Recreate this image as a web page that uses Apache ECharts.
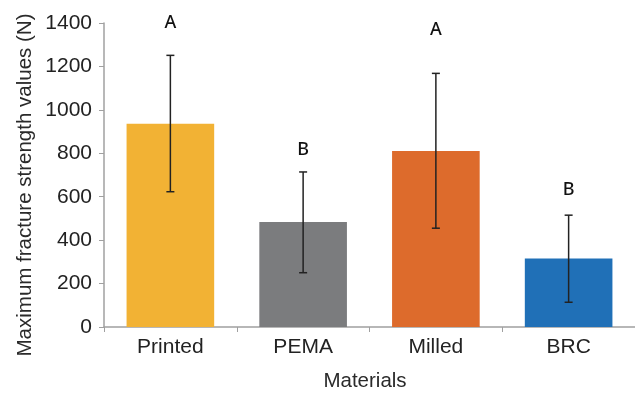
<!DOCTYPE html>
<html><head><meta charset="utf-8">
<script src="https://cdn.jsdelivr.net/npm/echarts@6/dist/echarts.min.js"></script>
<style>html,body{margin:0;padding:0;background:#fff}#c{width:635px;height:397px}</style>
</head><body><div id="c"></div>
<script>
var categories = ['Printed', 'PEMA', 'Milled', 'BRC'];
var means = [936, 483, 810, 315];
var errLow = [623, 250, 455, 114];
var errHigh = [1251, 714, 1168, 515];
var letters = ['A', 'B', 'A', 'B'];
var letterY = [1400, 814, 1368, 632];
var colors = ['#F2B234', '#7B7C7E', '#DD6B2C', '#2070B7'];
var yTicks = [0, 200, 400, 600, 800, 1000, 1200, 1400];

var chart = echarts.init(document.getElementById('c'));
var font = '"Liberation Sans", Arial, sans-serif';
chart.setOption({
  animation: false,
  grid: {left: 104, right: 0, top: 23, bottom: 66},
  graphic: [{
    type: 'text', x: 25, y: 185, rotation: Math.PI / 2,
    style: {text: 'Maximum fracture strength values (N)', font: '20.5px "Liberation Sans", Arial, sans-serif',
      fill: '#2a2a2a', align: 'center', verticalAlign: 'middle'}
  }],
  xAxis: {
    type: 'category', data: categories,
    name: 'Materials', nameLocation: 'middle', nameGap: 44,
    nameTextStyle: {fontFamily: font, fontSize: 20.5, color: '#2a2a2a', padding: [0, 9, 0, 0]},
    axisLine: {lineStyle: {color: '#a0a0a0', width: 1.5}},
    axisTick: {show: true, length: 5, lineStyle: {color: '#a0a0a0'}},
    axisLabel: {fontFamily: font, fontSize: 21, color: '#222', margin: 10}
  },
  yAxis: {
    type: 'value', min: yTicks[0], max: yTicks[yTicks.length - 1], interval: 200,
    axisLine: {show: true, lineStyle: {color: '#a0a0a0', width: 1.5}},
    axisTick: {show: true, length: 5, lineStyle: {color: '#a0a0a0'}},
    splitLine: {show: false},
    axisLabel: {fontFamily: font, fontSize: 21, color: '#222', margin: 12,
      formatter: function (v) { return String(v); }}
  },
  series: [
    {
      type: 'bar', barWidth: '66%',
      data: means.map(function (v, i) { return {value: v, itemStyle: {color: colors[i]}}; })
    },
    {
      type: 'custom',
      data: categories.map(function (c, i) { return [i, errLow[i], errHigh[i]]; }),
      renderItem: function (params, api) {
        var lo = api.coord([api.value(0), api.value(1)]);
        var hi = api.coord([api.value(0), api.value(2)]);
        var w = 4;
        var st = {stroke: '#222', lineWidth: 1.5};
        return {type: 'group', children: [
          {type: 'line', shape: {x1: lo[0], y1: lo[1], x2: hi[0], y2: hi[1]}, style: st},
          {type: 'line', shape: {x1: lo[0] - w, y1: lo[1], x2: lo[0] + w, y2: lo[1]}, style: st},
          {type: 'line', shape: {x1: hi[0] - w, y1: hi[1], x2: hi[0] + w, y2: hi[1]}, style: st}
        ]};
      },
      z: 5
    },
    {
      type: 'custom', z: 6,
      data: categories.map(function (c, i) { return [i, letterY[i]]; }),
      renderItem: function (params, api) {
        var p = api.coord([api.value(0), api.value(1)]);
        return {type: 'text', x: p[0], y: p[1],
          style: {text: letters[params.dataIndex], font: '500 18px "Noto Sans", sans-serif',
            fill: '#111', align: 'center', verticalAlign: 'middle'}};
      }
    }
  ]
});
</script></body></html>
